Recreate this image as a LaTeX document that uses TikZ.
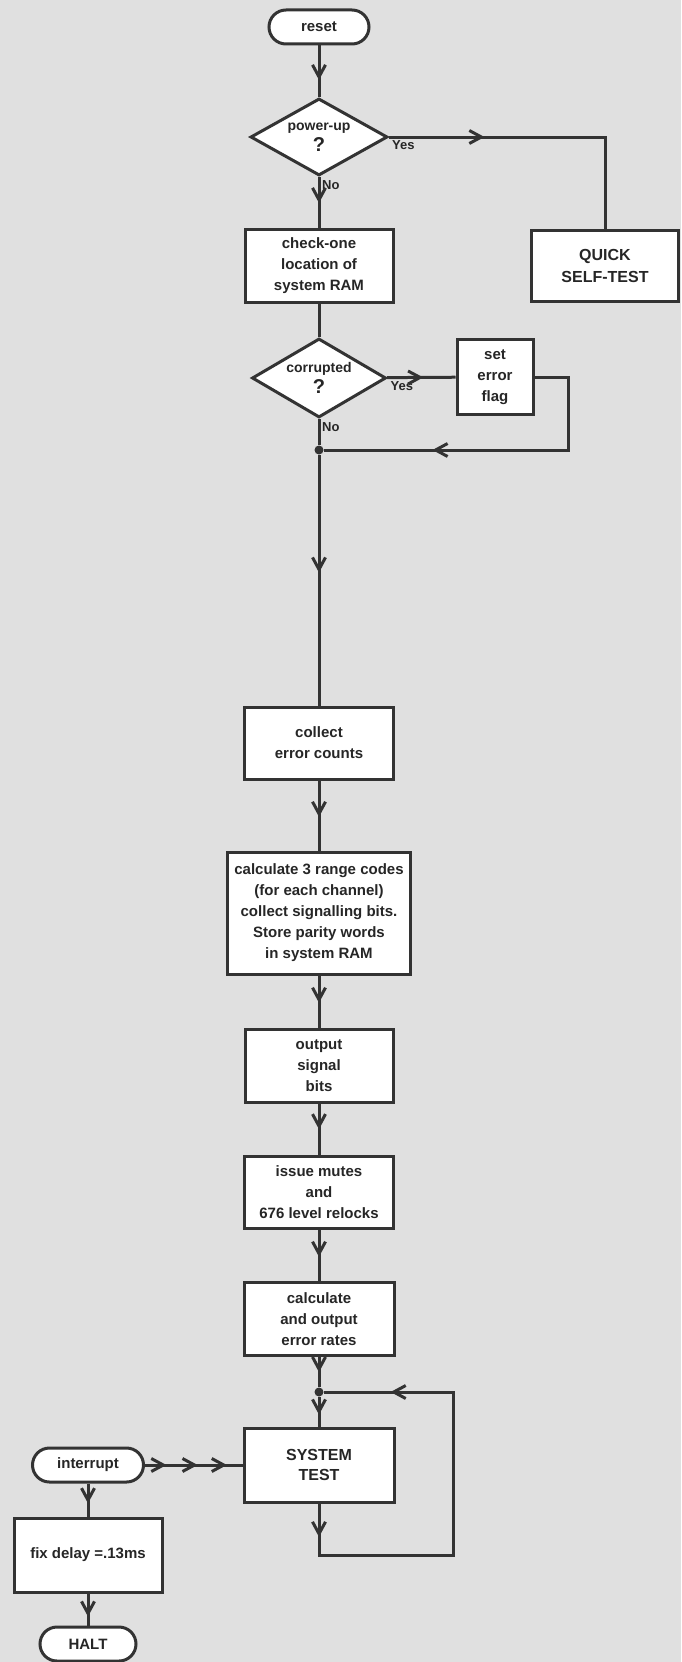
\documentclass[tikz,border=0pt]{standalone}
\usepackage{fontspec}
\setmainfont{Liberation Sans}
\usetikzlibrary{shapes.geometric,arrows.meta,decorations.markings}

\tikzstyle{conn}=[draw=black!80, line width=3pt]
\tikzstyle{box}=[draw=black!80, line width=3pt, fill=white, align=center, inner sep=0pt, text=black!85, font=\fontsize{15}{21}\selectfont\bfseries]
\tikzstyle{term}=[box, rounded corners=17pt, minimum height=34pt]
\tikzstyle{dec}=[box, diamond, aspect=1.75, font=\fontsize{14}{16}\selectfont\bfseries]
\tikzstyle{lbl}=[inner sep=3pt, text=black!85, font=\fontsize{13}{15}\selectfont\bfseries]
\tikzstyle{jdot}=[circle, fill=black!80, inner sep=0pt, minimum size=9pt]
\tikzset{arr/.style={postaction={decorate, decoration={markings, mark=at position #1 with {\arrow{>}}}}}, arr/.default=0.5}

\begin{document}
\begin{tikzpicture}[x=1pt, y=-1pt, >={Straight Barb[length=12pt,width=13pt]}]
  \fill [black!12] (0,0) rectangle (681,1662);
  \useasboundingbox (0,0) rectangle (681,1662);

  % start and first test
  \node (reset) [term, minimum width=100pt] at (319,27) {reset};
  \node (pwr) [dec, minimum width=137pt, minimum height=77pt] at (319,137) {power-up\\[3pt]{\fontsize{20}{20}\selectfont ?}};
  \node (quick) [box, minimum width=147pt, minimum height=71pt, font=\fontsize{16}{22}\selectfont\bfseries] at (605,266) {QUICK\\SELF-TEST};
  \node (check) [box, minimum width=148pt, minimum height=73pt] at (319,266) {check-one\\location of\\system RAM};
  \node (corr) [dec, minimum width=134pt, minimum height=79pt] at (319,378) {corrupted\\[3pt]{\fontsize{20}{20}\selectfont ?}};
  \node (seterr) [box, minimum width=76pt, minimum height=75pt] at (495,377) {set\\error\\flag};
  \node (j1) [jdot] at (319,450) {};
  \coordinate (flagc) at (568,450);

  \node (yes1) [lbl, anchor=north west] at (pwr.east) {Yes};
  \node (no1) [lbl, anchor=north west] at (pwr.south) {No};
  \node (yes2) [lbl, anchor=north west] at (corr.east) {Yes};
  \node (no2) [lbl, anchor=north west] at (corr.south) {No};

  % main sequence
  \node (collect) [box, minimum width=149pt, minimum height=72pt] at (319,743) {collect\\error counts};
  \node (calc) [box, minimum width=183pt, minimum height=122pt] at (319,913) {calculate 3 range codes\\(for each channel)\\collect signalling bits.\\Store parity words\\in system RAM};
  \node (output) [box, minimum width=148pt, minimum height=73pt] at (319,1066) {output\\signal\\bits};
  \node (issue) [box, minimum width=149pt, minimum height=72pt] at (319,1192) {issue mutes\\and\\676 level relocks};
  \node (rates) [box, minimum width=150pt, minimum height=73pt] at (319,1319) {calculate\\and output\\error rates};
  \node (j2) [jdot] at (319,1392) {};
  \node (systest) [box, minimum width=150pt, minimum height=74pt, font=\fontsize{16}{20}\selectfont\bfseries] at (319,1465) {SYSTEM\\TEST};
  \coordinate (loopc) at (453,1555);

  % interrupt branch
  \node (intr) [term, minimum width=111pt] at (88,1465) {interrupt};
  \node (fix) [box, minimum width=148pt, minimum height=74pt] at (88,1555) {fix delay =.13ms};
  \node (halt) [term, minimum width=96pt] at (88,1644) {HALT};

  \draw [conn, arr=0.67] (reset) -- (pwr);
  \draw [conn, arr=0.31] (pwr.east) -| (quick.north);
  \draw [conn, arr=0.51] (pwr) -- (check);
  \draw [conn] (check) -- (corr);
  \draw [conn, arr=0.53] (corr) -- (seterr);
  \draw [conn, arr=0.69] (seterr.east) -| (flagc) -- (j1);
  \draw [conn] (corr) -- (j1);
  \draw [conn, arr=0.47] (j1) -- (collect);
  \draw [conn, arr=0.52] (collect) -- (calc);
  \draw [conn, arr=0.52] (calc) -- (output);
  \draw [conn, arr=0.5] (output) -- (issue);
  \draw [conn, arr=0.53] (issue) -- (rates);
  \draw [conn, arr=0.5] (rates) -- (j2);
  \draw [conn, arr=0.6] (j2) -- (systest);
  \draw [conn, arr=0.07, arr=0.86] (systest.south) |- (loopc) |- (j2);
  \draw [conn, arr=0.22, arr=0.54, arr=0.84] (intr) -- (systest);
  \draw [conn, arr=0.6] (intr) -- (fix);
  \draw [conn, arr=0.72] (fix) -- (halt);
\end{tikzpicture}
\end{document}
